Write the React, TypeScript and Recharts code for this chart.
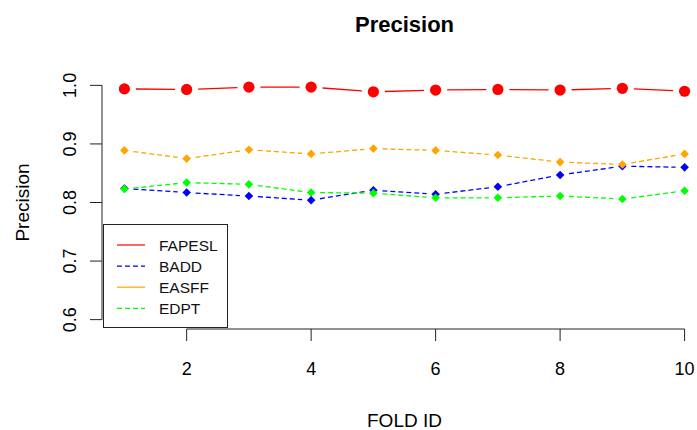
import { LineChart, Line, XAxis, YAxis, Legend, ReferenceLine } from 'recharts';

const folds = [1, 2, 3, 4, 5, 6, 7, 8, 9, 10];
const fapesl = [0.994, 0.993, 0.997, 0.997, 0.989, 0.992, 0.993, 0.992, 0.995, 0.99];
const badd = [0.824, 0.817, 0.811, 0.804, 0.821, 0.814, 0.827, 0.847, 0.862, 0.86];
const easff = [0.889, 0.875, 0.89, 0.883, 0.892, 0.889, 0.881, 0.869, 0.865, 0.883];
const edpt = [0.823, 0.834, 0.831, 0.817, 0.816, 0.808, 0.808, 0.811, 0.806, 0.82];

const xTicks = [2, 4, 6, 8, 10];
const yTicks = [0.6, 0.7, 0.8, 0.9, 1.0];

const FONT = '"Liberation Sans", Arial, sans-serif';

interface SeriesStyle {
  key: string;
  name: string;
  color: string;
  shape: 'circle' | 'diamond';
  dash?: string;
  legendDash?: string;
  gap: number;
}

const series: SeriesStyle[] = [
  { key: 'fapesl', name: 'FAPESL', color: '#ff0000', shape: 'circle', gap: 11.5 },
  { key: 'badd', name: 'BADD', color: '#0000ff', shape: 'diamond', dash: '5 3', legendDash: '5 3', gap: 9 },
  { key: 'easff', name: 'EASFF', color: '#ffa500', shape: 'diamond', dash: '5 3', gap: 9 },
  { key: 'edpt', name: 'EDPT', color: '#00ff00', shape: 'diamond', dash: '5 3', legendDash: '5 3', gap: 9 },
];

const data = folds.map((fold, i) => ({
  fold,
  fapesl: fapesl[i],
  badd: badd[i],
  easff: easff[i],
  edpt: edpt[i],
}));

// R's type="b": markers with line segments that stop short of each point
function makeDot(s: SeriesStyle) {
  return (props: any) => {
    const { cx, cy, index, points } = props;
    const next = points ? points[index + 1] : null;
    let seg = null;
    if (next) {
      const dx = next.x - cx;
      const dy = next.y - cy;
      const len = Math.hypot(dx, dy);
      if (len > 2 * s.gap) {
        const ux = dx / len;
        const uy = dy / len;
        seg = (
          <line
            x1={cx + ux * s.gap}
            y1={cy + uy * s.gap}
            x2={next.x - ux * s.gap}
            y2={next.y - uy * s.gap}
            stroke={s.color}
            strokeWidth={1.3}
            strokeDasharray={s.dash}
          />
        );
      }
    }
    const d = 4.3;
    const marker =
      s.shape === 'circle' ? (
        <circle cx={cx} cy={cy} r={5.6} fill={s.color} />
      ) : (
        <polygon
          points={`${cx},${cy - d} ${cx + d},${cy} ${cx},${cy + d} ${cx - d},${cy}`}
          fill={s.color}
        />
      );
    return (
      <g key={`dot-${s.key}-${index}`}>
        {seg}
        {marker}
      </g>
    );
  };
}

function XTick({ x, y, payload }: any) {
  return (
    <text x={x} y={y + 34} textAnchor="middle" fontSize={18} fontFamily={FONT} fill="#000">
      {payload.value}
    </text>
  );
}

function YTick({ x, y, payload }: any) {
  const bx = x - 14;
  return (
    <text
      x={bx}
      y={y}
      textAnchor="middle"
      fontSize={18}
      fontFamily={FONT}
      fill="#000"
      transform={`rotate(-90, ${bx}, ${y})`}
    >
      {Number(payload.value).toFixed(1)}
    </text>
  );
}

function LegendBox() {
  return (
    <svg width={125} height={104} style={{ display: 'block', background: '#fff' }}>
      <rect x={0.5} y={0.5} width={124} height={103} fill="#fff" stroke="#222" strokeWidth={1} />
      {series.map((s, i) => {
        const cy = 21 + i * 21.1;
        return (
          <g key={s.key}>
            <line x1={14} x2={42} y1={cy} y2={cy} stroke={s.color} strokeWidth={1.2} strokeDasharray={s.legendDash} />
            <text x={56} y={cy + 5.5} fontSize={15.5} fontFamily={FONT} fill="#111">
              {s.name}
            </text>
          </g>
        );
      })}
    </svg>
  );
}

export default function App() {
  return (
    <div style={{ position: 'absolute', left: 0, top: 0, width: 697, height: 430, overflow: 'hidden', background: '#fff' }}>
      <LineChart width={720} height={430} data={data} margin={{ top: 76, right: 13, bottom: 0, left: 0 }}>
        <XAxis
          dataKey="fold"
          type="number"
          domain={[0.64, 10.36]}
          ticks={xTicks}
          allowDataOverflow
          axisLine={false}
          tickLine={{ stroke: '#222' }}
          tickSize={12}
          tickMargin={0}
          height={101}
          tick={<XTick />}
        />
        <YAxis
          type="number"
          domain={[0.584, 1.016]}
          ticks={yTicks}
          allowDataOverflow
          axisLine={false}
          tickLine={{ stroke: '#222' }}
          tickSize={12}
          tickMargin={0}
          width={102}
          tick={<YTick />}
        />
        <ReferenceLine
          segment={[{ x: 2, y: 0.584 }, { x: 10, y: 0.584 }]}
          stroke="#222"
          strokeWidth={1}
          ifOverflow="visible"
        />
        <ReferenceLine
          segment={[{ x: 0.64, y: 0.6 }, { x: 0.64, y: 1.0 }]}
          stroke="#222"
          strokeWidth={1}
          ifOverflow="visible"
        />
        {series.map((s) => (
          <Line
            key={s.key}
            dataKey={s.key}
            name={s.name}
            stroke="none"
            dot={makeDot(s)}
            activeDot={false}
            isAnimationActive={false}
          />
        ))}
        <Legend
          layout="vertical"
          align="center"
          verticalAlign="middle"
          wrapperStyle={{ left: 103, top: 224, width: 125, height: 104 }}
          content={() => <LegendBox />}
        />
      </LineChart>
      <svg width={697} height={430} style={{ position: 'absolute', left: 0, top: 0, pointerEvents: 'none' }}>
        <text x={404.5} y={31.5} textAnchor="middle" fontSize={22} fontWeight="bold" fontFamily={FONT} fill="#000">
          Precision
        </text>
        <text x={404.5} y={427} textAnchor="middle" fontSize={19} fontFamily={FONT} fill="#000">
          FOLD ID
        </text>
        <text
          x={28.5}
          y={202.5}
          textAnchor="middle"
          fontSize={19}
          fontFamily={FONT}
          fill="#000"
          transform="rotate(-90, 28.5, 202.5)"
        >
          Precision
        </text>
      </svg>
    </div>
  );
}
